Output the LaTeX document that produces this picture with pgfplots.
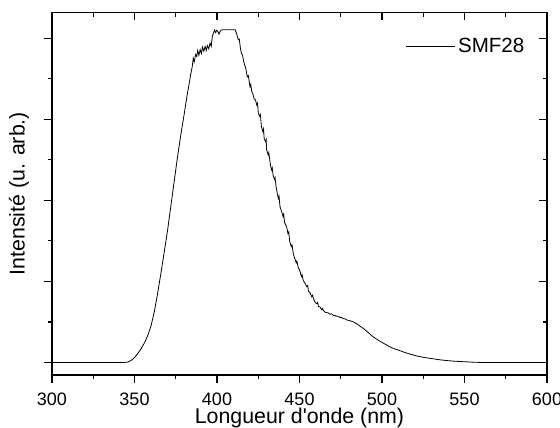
\documentclass[border=0pt]{standalone}
\usepackage{pgfplots}
\pgfplotsset{compat=1.18}
\usepackage{fontspec}
\setmainfont{Liberation Sans}
\begin{document}
\begin{tikzpicture}
\useasboundingbox (-39pt,-39.75pt) rectangle (381pt,281.25pt);
\pgfplotsset{
  common/.style={
    at={(0,0)}, anchor=south west,
    scale only axis, width=371.25pt, height=272pt,
    xmin=300, xmax=600, ymin=-0.31, ymax=8.64,
    xtick={300,350,...,600}, minor xtick={325,375,...,575},
    ytick={0,2,4,6,8}, minor ytick={1,3,5,7},
    yticklabels={},
    major tick length=6pt, minor tick length=3.3pt,
    axis line style={line width=0.9pt},
    every tick/.style={line width=0.9pt, black},
    /pgf/number format/assume math mode=true,
  }
}
\begin{axis}[common,
  tick align=outside, xtick pos=left, ytick pos=left,
  xticklabel style={font=\fontsize{13.5}{15}\selectfont, anchor=base, inner sep=0pt, yshift=-16.5pt},
  xlabel={Longueur d\textquotesingle onde (nm)},
  ylabel={Intensité (u. arb.)},
  label style={font=\fontsize{16}{19}\selectfont},
  xlabel style={at={(axis description cs:0.5,0)}, anchor=base, inner sep=0pt, yshift=-36.5pt},
  ylabel style={at={(axis description cs:-0.0667,0.5)}, anchor=center},
  legend style={draw=none, fill=none, inner sep=0pt, font=\fontsize{15.4}{18}\selectfont,
    at={(axis description cs:0.96,0.907)}, anchor=east},
  legend image code/.code={\draw[#1] (0pt,0pt) -- (36.75pt,0pt);},
]
\addplot[black, line width=0.6pt] table {
300 0
344 0
346 0.01
348 0.05
350 0.12
352 0.22
354 0.34
356 0.48
358 0.66
360 0.90
362 1.25
364 1.70
366 2.20
368 2.72
370 3.25
372 3.85
374 4.45
376 5.05
378 5.60
380 6.10
382 6.62
383 6.85
384 7.10
385 7.30
385.6 7.51
386.2 7.42
387 7.60
387.7 7.55
388.3 7.70
389 7.58
389.8 7.72
390.5 7.62
391.2 7.78
392 7.68
392.8 7.80
393.5 7.70
394.2 7.82
395 7.74
395.8 7.88
396.5 7.80
397.2 8.05
397.8 8.12
398.5 8.20
399.2 8.14
399.8 8.20
400.5 8.17
401.2 8.10
401.8 8.16
402.5 8.20
403.5 8.21
411 8.21
412 8.10
412.9 7.96
413.5 7.98
414.2 7.75
414.8 7.63
415.5 7.58
416.2 7.42
416.8 7.34
417.5 7.25
418.3 7.05
419 7.08
420 6.80
420.5 6.86
421 6.70
421.8 6.62
422.5 6.50
423.3 6.48
424.1 6.35
424.6 6.40
425 6.15
425.8 6.08
426.3 6.12
426.9 5.82
427.8 5.70
428.2 5.76
428.6 5.52
429.4 5.45
429.8 5.50
430.1 5.24
431 5.12
431.4 5.18
431.8 5.05
432.5 4.85
433.1 4.75
433.5 4.80
434 4.62
434.8 4.52
435.2 4.56
435.8 4.34
436.5 4.18
437.2 4.05
437.6 4.10
438.2 3.84
439.2 3.72
440 3.60
440.4 3.66
441 3.45
442.2 3.35
443 3.18
443.5 3.22
444 3.00
445 2.86
445.5 2.90
446.2 2.69
447 2.58
448 2.46
448.4 2.50
449.2 2.35
450.3 2.25
451.2 2.12
451.6 2.16
452.3 2.02
453.4 1.95
454.4 1.87
455 1.90
455.4 1.76
456.4 1.72
457.4 1.62
458 1.66
458.4 1.58
459.5 1.48
460.5 1.45
461 1.48
461.5 1.38
462.4 1.37
463.5 1.30
464 1.33
464.5 1.28
465.5 1.24
466.5 1.23
467.5 1.22
468.5 1.19
469.5 1.20
470.5 1.16
471.5 1.16
472.5 1.14
473.5 1.14
474.5 1.11
475.5 1.11
476.5 1.08
477.5 1.08
478.5 1.05
480.5 1.03
482.6 1.00
484.5 0.96
486.5 0.90
488.7 0.84
491 0.76
494.7 0.63
498 0.54
502.8 0.43
506 0.36
510.9 0.29
515 0.23
521 0.16
526 0.12
531 0.09
536 0.06
541 0.04
546 0.025
551 0.015
556 0.005
560 0
600 0
};
\addlegendentry{SMF28}
\end{axis}
\begin{axis}[common,
  tick align=inside, xtick pos=right, ytick pos=right,
  xticklabels={}, yticklabels={},
]
\end{axis}
\end{tikzpicture}
\end{document}
